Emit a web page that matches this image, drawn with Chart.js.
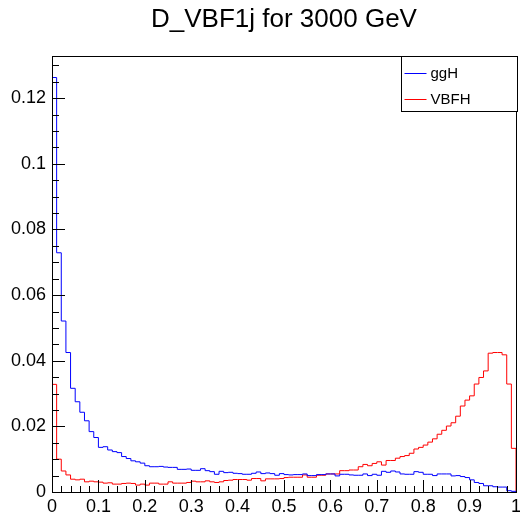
<!DOCTYPE html>
<html>
<head>
<meta charset="utf-8">
<title>D_VBF1j for 3000 GeV</title>
<script src="https://cdn.jsdelivr.net/npm/chart.js@4.4.1/dist/chart.umd.min.js"></script>
<style>
  body { margin: 0; background: #fff; }
  canvas { display: block; }
</style>
</head>
<body>
<canvas id="histChart" width="520" height="515"></canvas>
<script>
const xMin = 0;
const xMax = 1;
const yMax = 0.1328;
const xTicks = [0, 0.1, 0.2, 0.3, 0.4, 0.5, 0.6, 0.7, 0.8, 0.9, 1];
const yTicks = [0, 0.02, 0.04, 0.06, 0.08, 0.1, 0.12];
const seriesNames = ['ggH', 'VBFH'];
const seriesColors = ['#0000ff', '#ff0000'];

// 100 bins, 0 -> 1
const ggH = [
  0.1263, 0.0729, 0.0521, 0.0425, 0.0316, 0.0275, 0.0243, 0.0217, 0.0184, 0.0166,
  0.0136, 0.0138, 0.0128, 0.0123, 0.0120, 0.0108, 0.0102, 0.0095, 0.0092, 0.0088,
  0.0080, 0.0077, 0.0077, 0.0078, 0.0076, 0.0075, 0.0075, 0.0069, 0.0069, 0.0070,
  0.0066, 0.0066, 0.0071, 0.0065, 0.0062, 0.0054, 0.0063, 0.0059, 0.0060, 0.0057,
  0.0056, 0.0054, 0.0054, 0.0057, 0.0061, 0.0056, 0.0058, 0.0056, 0.0051, 0.0056,
  0.0053, 0.0052, 0.0053, 0.0053, 0.0055, 0.0050, 0.0050, 0.0053, 0.0053, 0.0055,
  0.0055, 0.0049, 0.0054, 0.0054, 0.0052, 0.0051, 0.0051, 0.0055, 0.0050, 0.0054,
  0.0051, 0.0063, 0.0060, 0.0064, 0.0061, 0.0055, 0.0054, 0.0054, 0.0062, 0.0060,
  0.0054, 0.0054, 0.0050, 0.0055, 0.0055, 0.0055, 0.0049, 0.0050, 0.0047, 0.0044,
  0.0037, 0.0029, 0.0026, 0.0019, 0.0019, 0.0016, 0.0015, 0.0015, 0.0004, 0.0002
];
const vbfH = [
  0.0328, 0.0100, 0.0064, 0.0052, 0.0039, 0.0037, 0.0039, 0.0031, 0.0033, 0.0031,
  0.0030, 0.0027, 0.0028, 0.0024, 0.0024, 0.0026, 0.0027, 0.0026, 0.0021, 0.0024,
  0.0021, 0.0027, 0.0027, 0.0024, 0.0024, 0.0031, 0.0027, 0.0027, 0.0027, 0.0029,
  0.0033, 0.0031, 0.0031, 0.0034, 0.0031, 0.0029, 0.0031, 0.0035, 0.0036, 0.0038,
  0.0038, 0.0038, 0.0036, 0.0041, 0.0041, 0.0034, 0.0040, 0.0040, 0.0040, 0.0041,
  0.0044, 0.0045, 0.0045, 0.0045, 0.0052, 0.0045, 0.0045, 0.0051, 0.0051, 0.0055,
  0.0055, 0.0055, 0.0065, 0.0065, 0.0067, 0.0067, 0.0077, 0.0084, 0.0080, 0.0087,
  0.0092, 0.0082, 0.0096, 0.0096, 0.0103, 0.0108, 0.0111, 0.0118, 0.0131, 0.0136,
  0.0143, 0.0152, 0.0162, 0.0176, 0.0188, 0.0201, 0.0211, 0.0231, 0.0262, 0.0280,
  0.0293, 0.0329, 0.0349, 0.0369, 0.0423, 0.0425, 0.0425, 0.0418, 0.0329, 0.0133
];

const fontFamily = '"Liberation Sans", Arial, Helvetica, sans-serif';

// turn bin contents into step points (right edge of each bin)
function histPoints(values) {
    const w = (xMax - xMin) / values.length;
    const pts = [{ x: xMin, y: 0 }];
    values.forEach((v, i) => pts.push({ x: xMin + (i + 1) * w, y: v }));
    pts.push({ x: xMax, y: 0 });
    return pts;
}

function fmt(v) {
    return String(Math.round(v * 100) / 100);
}

// ROOT style frame, inside ticks and legend box
const rootFrame = {
    id: 'rootFrame',
    afterDatasetsDraw(chart) {
        const c = chart.ctx;
        const a = chart.chartArea;
        const xs = chart.scales.x;
        const ys = chart.scales.y;
        c.save();
        c.strokeStyle = '#000';
        c.lineWidth = 1;
        c.beginPath();
        for (let i = 0; i <= 50; i++) {
            const px = Math.round(xs.getPixelForValue(i * 0.02)) + 0.5;
            const len = i % 5 === 0 ? 12 : 6;
            c.moveTo(px, a.bottom);
            c.lineTo(px, a.bottom - len);
        }
        for (let i = 0; i * 0.005 <= yMax; i++) {
            const py = Math.round(ys.getPixelForValue(i * 0.005)) + 0.5;
            const len = i % 4 === 0 ? 13 : 7;
            c.moveTo(a.left, py);
            c.lineTo(a.left + len, py);
        }
        c.stroke();
        c.strokeRect(Math.round(a.left) + 0.5, Math.round(a.top) + 0.5,
            Math.round(a.right - a.left), Math.round(a.bottom - a.top));

        // legend
        const bx = Math.round(a.right) - 114.5;
        const by = Math.round(a.top) + 0.5;
        c.fillStyle = '#fff';
        c.fillRect(bx, by, 116, 55);
        c.strokeStyle = '#000';
        c.strokeRect(bx, by, 116, 55);
        c.font = '15px ' + fontFamily;
        c.textBaseline = 'middle';
        c.textAlign = 'left';
        seriesNames.forEach((name, i) => {
            const ty = by + 16.5 + i * 25.5;
            c.strokeStyle = seriesColors[i];
            c.beginPath();
            c.moveTo(bx + 3, Math.round(ty) + 0.5);
            c.lineTo(bx + 25, Math.round(ty) + 0.5);
            c.stroke();
            c.fillStyle = '#000';
            c.fillText(name, bx + 29, ty + 1);
        });
        c.restore();
    }
};

const ctx = document.getElementById('histChart').getContext('2d');

const histChart = new Chart(ctx, {
    type: 'line',
    data: {
        datasets: [
            {
                label: seriesNames[0],
                data: histPoints(ggH),
                borderColor: seriesColors[0],
                borderWidth: 1,
                stepped: 'after',
                pointRadius: 0,
                fill: false,
                clip: 0
            },
            {
                label: seriesNames[1],
                data: histPoints(vbfH),
                borderColor: seriesColors[1],
                borderWidth: 1,
                stepped: 'after',
                pointRadius: 0,
                fill: false,
                clip: 0
            }
        ]
    },
    options: {
        responsive: false,
        animation: false,
        layout: { padding: { left: 0, right: 4, top: 0, bottom: 0 } },
        scales: {
            x: {
                type: 'linear',
                min: xMin,
                max: xMax,
                afterBuildTicks: axis => { axis.ticks = xTicks.map(v => ({ value: v })); },
                afterFit: scale => {
                    scale.height = 23;
                    scale.paddingLeft = 0;
                    scale.paddingRight = 0;
                },
                grid: { display: false, drawTicks: false },
                border: { display: false },
                ticks: {
                    padding: 4,
                    maxRotation: 0,
                    autoSkip: false,
                    color: '#000',
                    font: { family: fontFamily, size: 18 },
                    callback: v => fmt(v)
                }
            },
            y: {
                min: 0,
                max: yMax,
                afterBuildTicks: axis => { axis.ticks = yTicks.map(v => ({ value: v })); },
                afterFit: scale => {
                    scale.width = 52;
                    scale.paddingTop = 0;
                    scale.paddingBottom = 0;
                },
                grid: { display: false, drawTicks: false },
                border: { display: false },
                ticks: {
                    padding: 6,
                    autoSkip: false,
                    color: '#000',
                    font: { family: fontFamily, size: 18 },
                    callback: v => fmt(v)
                }
            }
        },
        plugins: {
            legend: { display: false },
            tooltip: { enabled: false },
            title: {
                display: true,
                text: 'D_VBF1j for 3000 GeV',
                fullSize: false,
                color: '#000',
                font: { family: fontFamily, size: 26, weight: 'normal' },
                padding: { top: 4, bottom: 21 }
            }
        }
    },
    plugins: [rootFrame]
});
</script>
</body>
</html>
